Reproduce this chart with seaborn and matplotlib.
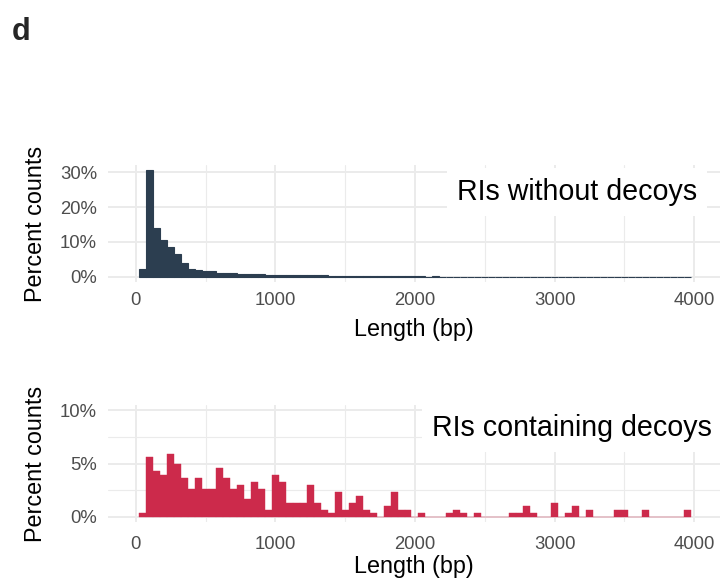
import numpy as np
import pandas as pd
import matplotlib
matplotlib.use("Agg")
import matplotlib.pyplot as plt
import seaborn as sns
from matplotlib.ticker import PercentFormatter, MultipleLocator, FixedLocator

# ---- data ----
# Top panel: percent of RIs per 50-bp bin (bin centres 50 .. 3950)
top_length = list(range(50, 4000, 50))
top_percent = [2.1, 30.6, 14.1, 10.5, 8.4, 6.4, 3.8, 2.1, 1.8, 1.5,
               1.5, 1.2, 1.2, 1.0, 0.9, 0.8, 0.7, 0.7, 0.6, 0.6,
               0.6, 0.5, 0.5, 0.6, 0.4, 0.6, 0.35, 0.3, 0.3, 0.3,
               0.3, 0.25, 0.25, 0.2, 0.1, 0.25, 0.25, 0.1, 0.1, 0.1,
               0.06, 0.05, 0.06, 0.05, 0.05, 0.04, 0.05, 0.04, 0.04, 0.05,
               0.04, 0.04, 0.03, 0.04, 0.04, 0.03, 0.04, 0.03, 0.03, 0.04,
               0.03, 0.03, 0.03, 0.02, 0.03, 0.03, 0.02, 0.03, 0.02, 0.02,
               0.03, 0.02, 0.02, 0.02, 0.03, 0.02, 0.02, 0.02, 0.02]

# Bottom panel: counts of RIs containing decoys per 50-bp bin (non-empty bins)
bot_length = [50, 100, 150, 200, 250, 300, 350, 400, 450, 500,
              550, 600, 650, 700, 750, 800, 850, 900, 950, 1000,
              1050, 1100, 1150, 1200, 1250, 1300, 1350, 1400, 1450, 1500,
              1550, 1600, 1650, 1700, 1800, 1850, 1900, 1950, 2050, 2250,
              2300, 2350, 2450, 2700, 2750, 2800, 2850, 3000, 3100, 3150,
              3250, 3450, 3500, 3650, 3950]
bot_count = [1, 17, 13, 12, 18, 15, 11, 8, 11, 8,
             8, 14, 11, 8, 9, 5, 10, 8, 2, 12,
             10, 4, 4, 4, 9, 4, 2, 1, 7, 2,
             4, 6, 2, 1, 3, 7, 2, 2, 1, 1,
             2, 1, 1, 1, 1, 3, 1, 4, 1, 3,
             2, 2, 2, 2, 2]

top_label = "RIs without decoys"
bot_label = "RIs containing decoys"
x_ticks = [0, 1000, 2000, 3000, 4000]
top_yticks = [0, 10, 20, 30]
bot_yticks = [0, 5, 10]

top_color = "#2C3E50"
bot_color = "#CC2A4B"

sns.set_theme(style="white")
plt.rcParams["font.family"] = ["Liberation Sans", "DejaVu Sans"]

W, H = 721, 582
fig = plt.figure(figsize=(W / 100, H / 100), dpi=100)

def frac(l, t, r, b):
    return [l / W, 1 - b / H, (r - l) / W, (b - t) / H]

ax1 = fig.add_axes(frac(108, 165, 720, 282))
ax2 = fig.add_axes(frac(108, 405, 720, 522))

top_df = pd.DataFrame({"length": top_length, "pct": top_percent})
bot_df = pd.DataFrame({"length": bot_length, "n": bot_count})

sns.histplot(data=top_df, x="length", weights="pct", binwidth=50,
             binrange=(25, 3975), stat="count", color=top_color,
             alpha=1, edgecolor=top_color, linewidth=0.8, ax=ax1)
sns.histplot(data=bot_df, x="length", weights="n", binwidth=50,
             binrange=(25, 3975), stat="percent", color=bot_color,
             alpha=1, edgecolor=bot_color, linewidth=0.3, ax=ax2)

grid_c = "#EBEBEB"
for ax in (ax1, ax2):
    ax.set_xlim(-200, 4186)
    ax.xaxis.set_major_locator(FixedLocator(x_ticks))
    ax.xaxis.set_minor_locator(MultipleLocator(500))
    ax.yaxis.set_major_formatter(PercentFormatter(decimals=0))
    ax.grid(which="major", color=grid_c, linewidth=1.4, zorder=0)
    ax.grid(which="minor", axis="x", color=grid_c, linewidth=0.8, zorder=0)
    ax.set_axisbelow(True)
    for s in ax.spines.values():
        s.set_visible(False)
    ax.tick_params(which="both", length=0, labelsize=13.3, labelcolor="#4D4D4D")
    ax.tick_params(axis="y", pad=8)
    ax.set_ylabel("Percent counts", fontsize=16.8, color="black", labelpad=9)

ax1.tick_params(axis="x", pad=7)
ax1.set_xlabel("Length (bp)", fontsize=16.8, color="black", labelpad=7)
ax2.tick_params(axis="x", pad=10)
ax2.set_xlabel("Length (bp)", fontsize=16.8, color="black", labelpad=1.5)

ax1.set_ylim(-1.53, 32.1)
ax1.yaxis.set_major_locator(FixedLocator(top_yticks))
ax2.set_ylim(-0.5, 10.5)
ax2.yaxis.set_major_locator(FixedLocator(bot_yticks))
ax2.yaxis.set_minor_locator(MultipleLocator(2.5))
ax2.grid(which="minor", axis="y", color=grid_c, linewidth=0.8, zorder=0)

box = dict(boxstyle="square,pad=0.35", facecolor="white", edgecolor="none")
ax1.text(4021, 22.1, top_label, ha="right", va="baseline", fontsize=20.6,
         color="black", bbox=box, zorder=5)
ax2.text(4129, 7.55, bot_label, ha="right", va="baseline", fontsize=20.6,
         color="black", bbox=box, zorder=5)

fig.text(12 / W, 1 - 40 / H, "d", fontsize=22, fontweight="bold",
         ha="left", va="baseline")

fig.savefig("out.png", dpi=100)
